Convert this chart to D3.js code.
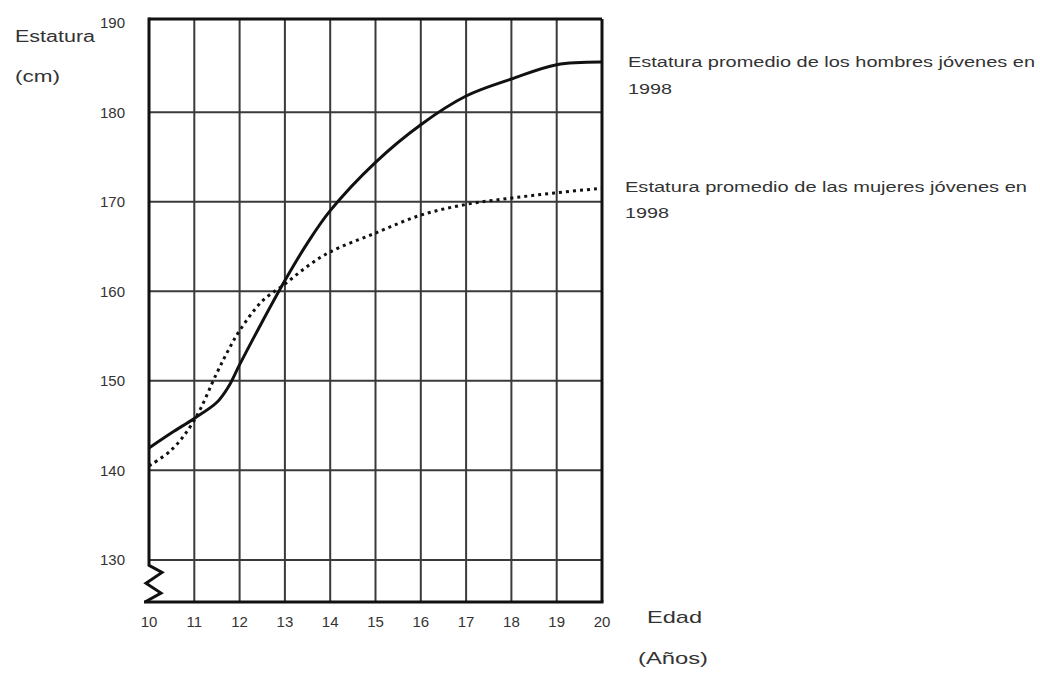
<!DOCTYPE html>
<html>
<head>
<meta charset="utf-8">
<script src="https://cdn.jsdelivr.net/npm/d3@7"></script>
<style>
  html, body { margin: 0; padding: 0; background: #fff; }
  svg { display: block; }
  text { font-family: "Liberation Sans", Arial, sans-serif; fill: #333; }
</style>
</head>
<body>
<svg id="chart" width="1040" height="673"></svg>
<script>
// ---- data ----
const ages = [10, 10.5, 11, 11.5, 11.75, 12, 12.5, 13, 13.5, 14, 15, 16, 17, 18, 19, 20];
const maleHeights = [142.5, 144.2, 145.8, 147.6, 149.3, 151.8, 156.6, 161.2, 165.4, 169.0, 174.4, 178.6, 181.8, 183.7, 185.3, 185.6];
const femaleHeights = [140.5, 142.3, 145.6, 150.9, 153.4, 155.6, 158.9, 160.8, 162.8, 164.4, 166.5, 168.5, 169.7, 170.4, 171.0, 171.5];
const xTicks = [10, 11, 12, 13, 14, 15, 16, 17, 18, 19, 20];
const yTicks = [130, 140, 150, 160, 170, 180, 190];
const maleLabel = ["Estatura promedio de los hombres jóvenes en", "1998"];
const femaleLabel = ["Estatura promedio de las mujeres jóvenes en", "1998"];
const yTitle = ["Estatura", "(cm)"];
const xTitle = ["Edad", "(Años)"];

// ---- layout ----
const svg = d3.select("#chart");
const x = d3.scaleLinear().domain([10, 20]).range([149, 602]);
const y = d3.scaleLinear().domain([125.3, 190.4]).range([602, 19]);

// grid lines
const grid = svg.append("g").attr("stroke", "#3a3a3a").attr("stroke-width", 2);
grid.selectAll("line.v").data(xTicks.slice(1, -1)).join("line")
  .attr("x1", d => x(d)).attr("x2", d => x(d))
  .attr("y1", y(190.4)).attr("y2", y(125.3));
grid.selectAll("line.h").data(yTicks.slice(0, -1)).join("line")
  .attr("x1", x(10)).attr("x2", x(20))
  .attr("y1", d => y(d)).attr("y2", d => y(d));

// frame: top + right
const frame = svg.append("g").attr("stroke", "#111").attr("stroke-width", 3).attr("fill", "none");
frame.append("line").attr("x1", x(10)).attr("x2", x(20)).attr("y1", y(190.4)).attr("y2", y(190.4));
frame.append("line").attr("x1", x(20)).attr("x2", x(20)).attr("y1", y(190.4)).attr("y2", y(125.3));
// bottom axis
frame.append("line").attr("x1", x(10) - 5).attr("x2", x(20) + 1.5).attr("y1", y(125.3)).attr("y2", y(125.3));
// left axis with break zigzag
const x0 = x(10);
const zig = d3.path();
zig.moveTo(x0, y(190.4) - 1.5);
zig.lineTo(x0, y(129.4));
zig.lineTo(x0 + 13, y(128.6));
zig.lineTo(x0 - 3, y(127.4));
zig.lineTo(x0 + 12, y(126.3));
zig.lineTo(x0 - 4, y(125.3));
frame.append("path").attr("d", zig.toString()).attr("stroke-linejoin", "miter");

// curves
const line = d3.line().curve(d3.curveCatmullRom.alpha(0.5));
const malePts = ages.map((a, i) => [x(a), y(maleHeights[i])]);
const femalePts = ages.map((a, i) => [x(a), y(femaleHeights[i])]);
svg.append("path").attr("d", line(femalePts)).attr("fill", "none")
  .attr("stroke", "#111").attr("stroke-width", 3).attr("stroke-dasharray", "3,4");
svg.append("path").attr("d", line(malePts)).attr("fill", "none")
  .attr("stroke", "#111").attr("stroke-width", 3);

// y tick labels
svg.append("g").selectAll("text").data(yTicks).join("text")
  .attr("x", 125).attr("y", d => y(d))
  .attr("text-anchor", "end").attr("dominant-baseline", "central")
  .attr("font-size", 15).text(d => d);

// x tick labels
svg.append("g").selectAll("text").data(xTicks).join("text")
  .attr("x", d => x(d)).attr("y", 627)
  .attr("text-anchor", "middle").attr("font-size", 15).text(d => d);

// axis titles
svg.append("text").attr("x", 15).attr("y", 42).attr("font-size", 16)
  .attr("textLength", 80).attr("lengthAdjust", "spacingAndGlyphs").text(yTitle[0]);
svg.append("text").attr("x", 15).attr("y", 82).attr("font-size", 16)
  .attr("textLength", 45).attr("lengthAdjust", "spacingAndGlyphs").text(yTitle[1]);
svg.append("text").attr("x", 647).attr("y", 623).attr("font-size", 17)
  .attr("textLength", 55).attr("lengthAdjust", "spacingAndGlyphs").text(xTitle[0]);
svg.append("text").attr("x", 638).attr("y", 664).attr("font-size", 17)
  .attr("textLength", 70).attr("lengthAdjust", "spacingAndGlyphs").text(xTitle[1]);

// series labels
svg.append("text").attr("x", 628).attr("y", 67).attr("font-size", 14)
  .attr("textLength", 407).attr("lengthAdjust", "spacingAndGlyphs").text(maleLabel[0]);
svg.append("text").attr("x", 628).attr("y", 94).attr("font-size", 14)
  .attr("textLength", 44).attr("lengthAdjust", "spacingAndGlyphs").text(maleLabel[1]);
svg.append("text").attr("x", 625).attr("y", 192).attr("font-size", 14)
  .attr("textLength", 402).attr("lengthAdjust", "spacingAndGlyphs").text(femaleLabel[0]);
svg.append("text").attr("x", 625).attr("y", 218).attr("font-size", 14)
  .attr("textLength", 44).attr("lengthAdjust", "spacingAndGlyphs").text(femaleLabel[1]);
</script>
</body>
</html>
